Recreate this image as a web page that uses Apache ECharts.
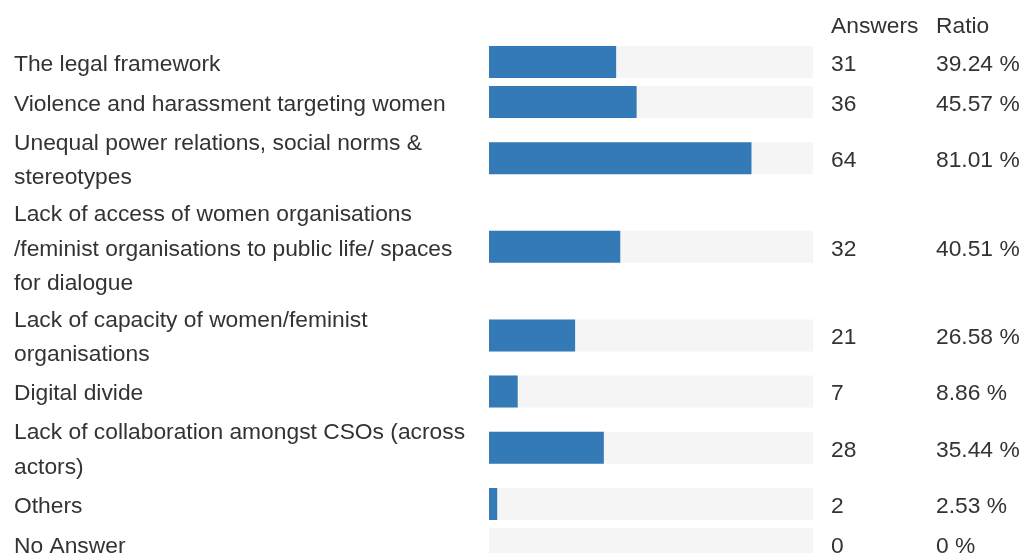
<!DOCTYPE html>
<html>
<head>
<meta charset="utf-8">
<script src="https://cdn.jsdelivr.net/npm/echarts@6/dist/echarts.min.js"></script>
<style>
  html, body { margin: 0; padding: 0; background: #fff; }
  #chart { width: 1021px; height: 553px; }
</style>
</head>
<body>
<div id="chart"></div>
<script>
  // 数据
  const labels = [
    'The legal framework',
    'Violence and harassment targeting women',
    'Unequal power relations, social norms &\nstereotypes',
    'Lack of access of women organisations\n/feminist organisations to public life/ spaces\nfor dialogue',
    'Lack of capacity of women/feminist\norganisations',
    'Digital divide',
    'Lack of collaboration amongst CSOs (across\nactors)',
    'Others',
    'No Answer'
  ];
  const answers = [31, 36, 64, 32, 21, 7, 28, 2, 0];
  const ratios = [39.24, 45.57, 81.01, 40.51, 26.58, 8.86, 35.44, 2.53, 0];
  const headers = ['Answers', 'Ratio'];

  const font = '"Liberation Sans", Arial, Helvetica, sans-serif';
  const fontSize = 22.8;
  const textColor = '#333';
  const lineH = 34.5;

  // 行高：按标签行数
  const rowHeights = labels.map(s => s.split('\n').length * 32.4 + 7.6);
  const total = rowHeights.reduce((a, b) => a + b, 0);
  let acc = 0;
  const rowCenters = rowHeights.map(h => { const c = acc + h / 2; acc += h; return c; });

  const gridTop = 42, gridLeft = 489, barW = 324, barH = 32;

  const chart = echarts.init(document.getElementById('chart'));
  chart.setOption({
    animation: false,
    grid: { left: gridLeft, top: gridTop, width: barW, height: total, outerBoundsMode: 'none' },
    xAxis: { type: 'value', min: 0, max: 100, show: false },
    yAxis: { type: 'value', min: 0, max: total, inverse: true, show: false },
    graphic: headers.map((t, i) => ({
      type: 'text',
      x: [831, 936][i],
      y: 27,
      style: { text: t, fill: textColor, fontSize, fontFamily: font, verticalAlign: 'middle' }
    })),
    series: [{
      type: 'custom',
      clip: false,
      data: ratios.map((v, i) => [v, rowCenters[i], i]),
      renderItem: function (params, api) {
        const v = api.value(0), y = api.value(1), i = api.value(2);
        const p0 = api.coord([0, y]);
        const p1 = api.coord([100, y]);
        const pv = api.coord([v, y]);
        const txt = (text, x) => ({
          type: 'text',
          style: {
            text, x, y: p0[1] + 2.5, fill: textColor, fontSize, fontFamily: font,
            lineHeight: lineH, verticalAlign: 'middle', align: 'left'
          }
        });
        return {
          type: 'group',
          children: [
            { type: 'rect', shape: { x: p0[0], y: p0[1] - barH / 2, width: p1[0] - p0[0], height: barH }, style: { fill: '#f5f5f5' } },
            { type: 'rect', shape: { x: p0[0], y: p0[1] - barH / 2, width: pv[0] - p0[0], height: barH }, style: { fill: '#337ab7' } },
            txt(labels[i], 14),
            txt(String(answers[i]), p1[0] + 18),
            txt(ratios[i] + ' %', p1[0] + 123)
          ]
        };
      }
    }]
  });
</script>
</body>
</html>
